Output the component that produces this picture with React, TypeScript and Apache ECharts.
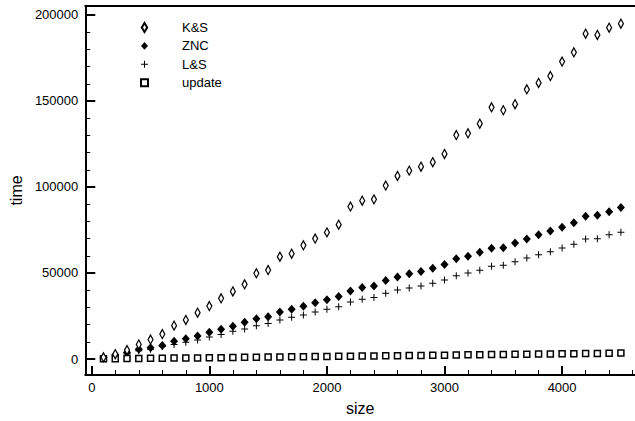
import React, { useEffect, useRef } from "react";
import * as echarts from "echarts";

const sizes = [100, 200, 300, 400, 500, 600, 700, 800, 900, 1000, 1100, 1200, 1300, 1400, 1500, 1600, 1700, 1800, 1900, 2000, 2100, 2200, 2300, 2400, 2500, 2600, 2700, 2800, 2900, 3000, 3100, 3200, 3300, 3400, 3500, 3600, 3700, 3800, 3900, 4000, 4100, 4200, 4300, 4400, 4500];

const ksTimes = [1000, 2800, 5200, 8500, 11300, 14500, 19400, 22700, 26900, 30800, 35300, 39300, 43400, 49800, 51700, 59500, 61200, 66100, 70000, 73600, 78100, 88600, 92000, 92800, 100800, 106400, 109500, 111800, 114400, 119200, 130200, 131200, 136800, 146300, 144600, 148100, 156800, 160500, 164500, 172900, 178300, 189100, 188400, 192600, 194900];

const zncTimes = [700, 2400, 3800, 5600, 6500, 7800, 10300, 11800, 13400, 15500, 17300, 19000, 21300, 23400, 24600, 27300, 28900, 30600, 32700, 34500, 36400, 39500, 41500, 42400, 45700, 47700, 49600, 50800, 52700, 55000, 58300, 59700, 62000, 64400, 64700, 67400, 69800, 72300, 74400, 76600, 79200, 83000, 83500, 85600, 88000];

const lsTimes = [500, 1600, 3000, 4800, 5600, 7200, 8500, 9700, 11000, 12800, 14300, 16100, 17400, 19400, 20700, 22700, 24200, 25600, 27300, 28900, 30400, 33100, 34700, 35700, 38200, 40100, 41300, 42400, 44000, 45900, 48400, 50000, 51600, 53900, 54500, 56600, 58700, 60600, 62400, 64500, 66700, 69800, 69900, 72300, 73700];

const updateTimes = [100, 150, 250, 350, 400, 450, 550, 600, 650, 750, 800, 900, 950, 1050, 1100, 1200, 1250, 1350, 1400, 1500, 1550, 1650, 1750, 1800, 1900, 1950, 2050, 2100, 2200, 2250, 2350, 2400, 2500, 2550, 2650, 2700, 2800, 2900, 2950, 3050, 3100, 3200, 3250, 3350, 3500];

const seriesNames = ["K&S", "ZNC", "L&S", "update"];

const xMajorTicks = [0, 1000, 2000, 3000, 4000];
const xMinorTicks = [200, 400, 600, 800, 1200, 1400, 1600, 1800, 2200, 2400, 2600, 2800, 3200, 3400, 3600, 3800, 4200, 4400, 4600];
const yMajorTicks = [0, 50000, 100000, 150000, 200000];
const yMinorTicks = [10000, 20000, 30000, 40000, 60000, 70000, 80000, 90000, 110000, 120000, 130000, 140000, 160000, 170000, 180000, 190000];

const FONT = "'Liberation Sans', Arial, Helvetica, sans-serif";

const hollowDiamond = "path://M3,0L6,5L3,10L0,5Z";
const filledDiamond = "path://M4,0L8,4.5L4,9L0,4.5Z";
const plusShape = "path://M3,0H4V3H7V4H4V7H3V4H0V3H3Z";
const squareShape = "path://M0,0H6V6H0Z";

export default function App() {
  const ref = useRef<HTMLDivElement>(null);

  useEffect(() => {
    if (!ref.current) return;
    const chart = echarts.init(ref.current, undefined, { renderer: "svg" });
    const pairs = (ys: number[]) => sizes.map((s, i) => [s, ys[i]]);
    const axisLineStyle = { color: "#000", width: 2 };
    const X_MIN = -55, X_MAX = 4620;
    const Y_MIN = -9300, Y_MAX = 205200;
    // data-unit tick lengths (about 9px major / 5px minor)
    const X_MAJ = 5200, X_MIN_LEN = 2900; // along y (units of y)
    const Y_MAJ = 76, Y_MIN_LEN = 42; // along x (units of x)
    const plain = (v: number) => String(v);

    const tickLines = [
      ...xMajorTicks.map((v) => [{ coord: [v, Y_MIN], lineStyle: { width: 2 } }, { coord: [v, Y_MIN + X_MAJ] }]),
      ...xMinorTicks.map((v) => [{ coord: [v, Y_MIN], lineStyle: { width: 1 } }, { coord: [v, Y_MIN + X_MIN_LEN] }]),
      ...yMajorTicks.map((v) => [{ coord: [X_MIN, v], lineStyle: { width: 2 } }, { coord: [X_MIN + Y_MAJ, v] }]),
      ...yMinorTicks.map((v) => [{ coord: [X_MIN, v], lineStyle: { width: 1 } }, { coord: [X_MIN + Y_MIN_LEN, v] }]),
    ];

    chart.setOption({
      animation: false,
      backgroundColor: "#fff",
      textStyle: { fontFamily: FONT },
      grid: { left: 80, right: 0, top: 6, bottom: 46, containLabel: false },
      legend: {
        orient: "vertical",
        left: 135,
        top: 16,
        itemWidth: 7,
        itemHeight: 9,
        itemGap: 5.4,
        symbolKeepAspect: true,
        textStyle: { fontFamily: FONT, fontSize: 13, color: "#000", padding: [0, 0, 0, 29] },
        data: seriesNames,
      },
      xAxis: [
        {
          type: "value",
          position: "bottom",
          min: X_MIN,
          max: X_MAX,
          axisLine: { show: true, onZero: false, lineStyle: axisLineStyle },
          axisTick: { show: true, inside: true, length: 9, lineStyle: { color: "#000", width: 2 }, customValues: xMajorTicks },
          minorTick: { show: false },
          axisLabel: { show: true, customValues: xMajorTicks, formatter: plain, fontSize: 13, color: "#000", fontFamily: FONT, margin: 6 },
          splitLine: { show: false },
          name: "size",
          nameLocation: "middle",
          nameGap: 25,
          nameTextStyle: { fontSize: 16, color: "#000", fontFamily: FONT },
        },
        {
          type: "value",
          position: "top",
          min: X_MIN,
          max: X_MAX,
          axisLine: { show: true, onZero: false, lineStyle: axisLineStyle },
          axisTick: { show: false },
          axisLabel: { show: false },
          splitLine: { show: false },
        },
      ],
      yAxis: [
        {
          type: "value",
          position: "left",
          min: Y_MIN,
          max: Y_MAX,
          axisLine: { show: true, onZero: false, lineStyle: axisLineStyle },
          axisTick: { show: true, inside: true, length: 10, lineStyle: { color: "#000", width: 2 }, customValues: yMajorTicks },
          axisLabel: { show: true, customValues: yMajorTicks, formatter: plain, fontSize: 13, color: "#000", fontFamily: FONT, margin: 7 },
          splitLine: { show: false },
          name: "time",
          nameLocation: "middle",
          nameGap: 59,
          nameTextStyle: { fontSize: 16, color: "#000", fontFamily: FONT },
        },
      ],
      series: [
        {
          name: seriesNames[0],
          type: "scatter",
          data: pairs(ksTimes),
          symbol: hollowDiamond,
          symbolSize: [5, 9],
          itemStyle: { color: "#fff", borderColor: "#000", borderWidth: 1.3, opacity: 1 },
          z: 4,
          markLine: {
            silent: true,
            symbol: ["none", "none"],
            label: { show: false },
            lineStyle: { color: "#000", type: "solid", opacity: 1 },
            emphasis: { disabled: true },
            data: tickLines,
          },
        },
        {
          name: seriesNames[1],
          type: "scatter",
          data: pairs(zncTimes),
          symbol: filledDiamond,
          symbolSize: [8, 9],
          itemStyle: { color: "#000", opacity: 1 },
          z: 3,
        },
        {
          name: seriesNames[2],
          type: "scatter",
          data: pairs(lsTimes),
          symbol: plusShape,
          symbolSize: 7,
          itemStyle: { color: "#000", opacity: 1 },
          z: 3,
        },
        {
          name: seriesNames[3],
          type: "scatter",
          data: pairs(updateTimes),
          symbol: squareShape,
          symbolSize: 6,
          itemStyle: { color: "#fff", borderColor: "#000", borderWidth: 1.5, opacity: 1 },
          z: 3,
        },
      ],
    });

    return () => chart.dispose();
  }, []);

  return <div ref={ref} style={{ width: 635, height: 421, position: "fixed", left: 0, top: 0 }} />;
}
